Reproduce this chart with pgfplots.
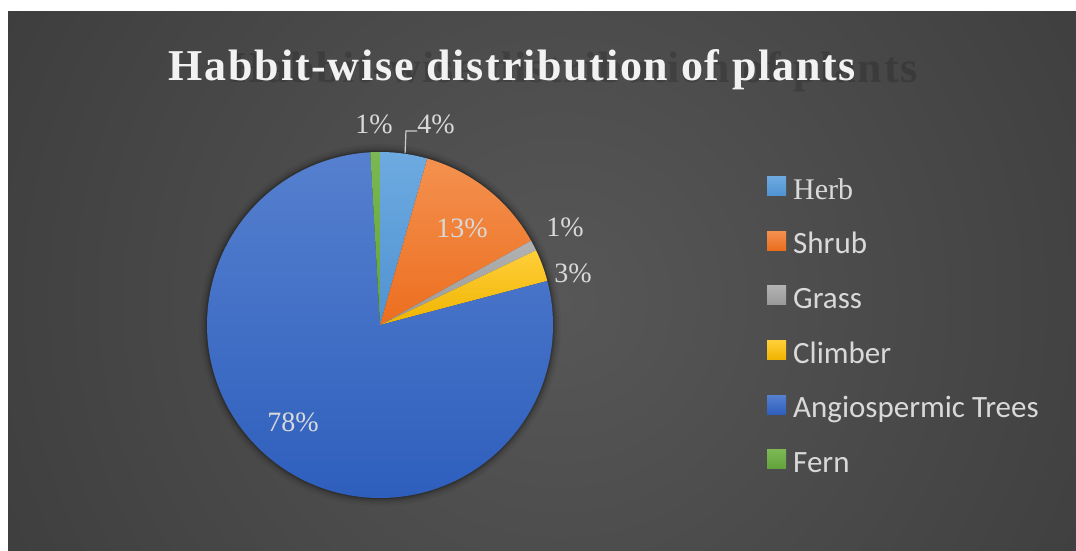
\documentclass[border=0pt]{standalone}
\usepackage{pgfplots}
\pgfplotsset{compat=1.18}
\usepackage{pgfplotstable}
\usepackage{fontspec}
\setmainfont{Liberation Serif}
\newfontfamily\carlito{Carlito}

\definecolor{labelc}{HTML}{D9D9D9}
\definecolor{titlec}{HTML}{F2F2F2}
\definecolor{bgin}{HTML}{575757}
\definecolor{bgout}{HTML}{252525}
\definecolor{herbT}{HTML}{6DAAE0}
\definecolor{herbB}{HTML}{5093D2}
\definecolor{shrubT}{HTML}{F4914F}
\definecolor{shrubB}{HTML}{EC6E1F}
\definecolor{grassT}{HTML}{B2B2B2}
\definecolor{grassB}{HTML}{999999}
\definecolor{climbT}{HTML}{FFCF3A}
\definecolor{climbB}{HTML}{F0B400}
\definecolor{treeT}{HTML}{5680CF}
\definecolor{treeB}{HTML}{2E5FBD}
\definecolor{fernT}{HTML}{7BB853}
\definecolor{fernB}{HTML}{62A23B}

\pgfdeclareradialshading{bgshade}{\pgfpoint{0bp}{0bp}}{color(0bp)=(bgin); color(52bp)=(bgout); color(72bp)=(bgout)}

\pgfplotstableread{
habit value
Herb 4.4
Shrub 12.5
Grass 1.0
Climber 3.0
Trees 78.2
Fern 0.9
}\piedata

\def\cum{0}
\newcommand\getangles[2]{%
  \pgfplotstablegetelem{#1}{value}\of\piedata
  \pgfmathsetmacro\tmpS{90-3.6*\cum}%
  \pgfmathsetmacro\cum{\cum+\pgfplotsretval}%
  \pgfmathsetmacro\tmpE{90-3.6*\cum}%
  \expandafter\let\csname s#2\endcsname\tmpS
  \expandafter\let\csname e#2\endcsname\tmpE}
\getangles{0}{A}
\getangles{1}{B}
\getangles{2}{C}
\getangles{3}{D}
\getangles{4}{E}
\getangles{5}{F}

\newcommand\titlefont{\addfontfeatures{LetterSpace=4}\fontsize{44}{52}\selectfont\bfseries}
\newcommand\lblfont{\fontsize{28}{34}\selectfont}
\newcommand\lstrut{\rule[-11pt]{0pt}{41pt}}

\begin{document}
\begin{tikzpicture}[x=1pt,y=1pt]
\fill[white] (0,0) rectangle (1076,550);
\begin{scope}
\clip (8,0) rectangle (1076,538);
\shade[shading=bgshade] (-40,-350) rectangle (1160,850);
\end{scope}
% title with faint ghost shadow
\node[anchor=base, font=\titlefont, text=black, opacity=0.16] at (574,467) {Habbit-wise distribution of plants};
\node[anchor=base, font=\titlefont, text=titlec] at (512.5,469.5) {Habbit-wise distribution of plants};
% soft shadow around the pie
\foreach \r/\o in {181/0.04,179/0.05,177/0.07,175.5/0.10,174.2/0.14} {\fill[black,opacity=\o] (380,225) circle (\r pt);}
\begin{axis}[
  at={(207pt,52pt)}, anchor=south west,
  width=346pt, height=346pt, scale only axis,
  xmin=-1, xmax=1, ymin=-1, ymax=1,
  hide axis, clip=false,
  legend cell align=left,
  legend style={at={(1.6185,0.951)}, anchor=north west, draw=none, fill=none,
    inner sep=0pt, row sep=23.2pt, column sep=7pt,
    font=\carlito\fontsize{31}{37}\selectfont,
    nodes={inner sep=0pt, text=labelc}},
  legend image code/.code={\path[#1,draw=none] (0pt,-10.5pt) rectangle (19pt,8.5pt);},
]
\addplot[draw=none, top color=herbT, bottom color=herbB, domain=\eA:\sA, samples=30] ({cos(x)},{sin(x)}) -- (axis cs:0,0) -- cycle;
\addlegendentry{\lstrut{\rmfamily\fontsize{30}{36}\selectfont Herb}}
\addplot[draw=none, top color=shrubT, bottom color=shrubB, domain=\eB:\sB, samples=40] ({cos(x)},{sin(x)}) -- (axis cs:0,0) -- cycle;
\addlegendentry{\lstrut Shrub}
\addplot[draw=none, top color=grassT, bottom color=grassB, domain=\eC:\sC, samples=10] ({cos(x)},{sin(x)}) -- (axis cs:0,0) -- cycle;
\addlegendentry{\lstrut Grass}
\addplot[draw=none, top color=climbT, bottom color=climbB, domain=\eD:\sD, samples=15] ({cos(x)},{sin(x)}) -- (axis cs:0,0) -- cycle;
\addlegendentry{\lstrut Climber}
\addplot[draw=none, top color=treeT, bottom color=treeB, domain=\eE:\sE, samples=150] ({cos(x)},{sin(x)}) -- (axis cs:0,0) -- cycle;
\addlegendentry{\lstrut Angiospermic Trees}
\addplot[draw=none, top color=fernT, bottom color=fernB, domain=\eF:\sF, samples=8] ({cos(x)},{sin(x)}) -- (axis cs:0,0) -- cycle;
\addlegendentry{\lstrut Fern}
% data labels
\draw[color=labelc!85!gray, line width=1.2pt] (axis cs:0.145,0.994) -- (axis cs:0.150,1.121) -- (axis cs:0.214,1.121);
\node[font=\lblfont, text=labelc] at (axis cs:0.324,1.162) {4\%};
\node[font=\lblfont, text=labelc] at (axis cs:0.474,0.561) {13\%};
\node[font=\lblfont, text=labelc] at (axis cs:1.069,0.566) {1\%};
\node[font=\lblfont, text=labelc] at (axis cs:1.116,0.301) {3\%};
\node[font=\lblfont, text=labelc] at (axis cs:-0.503,-0.561) {78\%};
\node[font=\lblfont, text=labelc] at (axis cs:-0.035,1.162) {1\%};
\end{axis}
\end{tikzpicture}
\end{document}
